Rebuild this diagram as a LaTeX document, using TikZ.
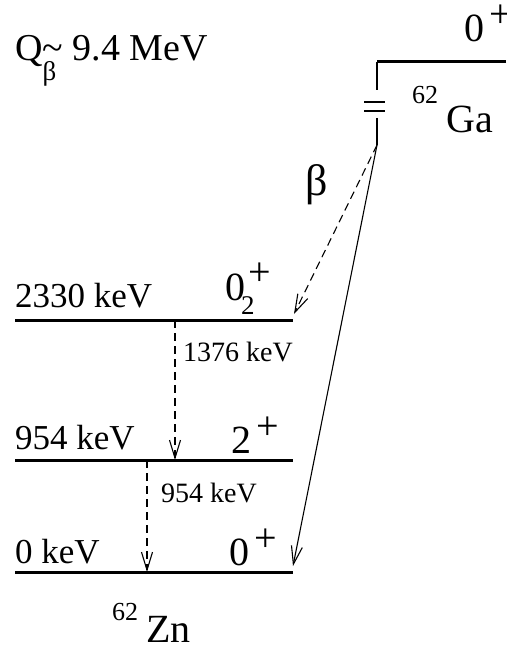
\documentclass[tikz,border=0pt]{standalone}
\usepackage{fontspec}
\setmainfont{Liberation Serif}
\usetikzlibrary{arrows.meta}

\newcommand\spinlab[1]{#1\kern5pt\raisebox{14pt}{+}}
\newcommand\spinsub[2]{#1\rlap{\kern-4pt\raisebox{-14pt}{\fontsize{27}{27}\selectfont #2}}\kern3pt\raisebox{15pt}{+}}

\begin{document}
\begin{tikzpicture}[x=1pt, y=-1pt,
  level/.style={line width=3pt},
  trans/.style={line width=1.1pt, -{Straight Barb[length=18pt,width=11pt]}},
  gam/.style={trans, dash pattern=on 8pt off 5pt},
  lvltxt/.style={anchor=base west, inner sep=0pt, font=\fontsize{35}{35}\selectfont},
  spintxt/.style={anchor=base west, inner sep=0pt, font=\fontsize{40}{40}\selectfont},
  gamtxt/.style={anchor=base west, inner sep=0pt, font=\fontsize{28}{28}\selectfont},
  nuctxt/.style={anchor=base west, inner sep=0pt, font=\fontsize{40}{40}\selectfont},
  masstxt/.style={anchor=base west, inner sep=0pt, font=\fontsize{26}{26}\selectfont}]
  \useasboundingbox (0,0) rectangle (506,650);

  % Q value
  \node[anchor=base west, inner sep=0pt, font=\fontsize{38}{38}\selectfont] (qval) at (15,61)
    {Q\rlap{\raisebox{-20pt}{\fontsize{27}{27}\selectfont β}}\textasciitilde\ 9.4 MeV};

  % parent level 62Ga
  \coordinate (gaw) at (377,62);
  \coordinate (gae) at (506,62);
  \coordinate (gastem) at (377,90);
  \coordinate (gafoot) at (377,118);
  \coordinate (gabot) at (377,145);
  \draw[level] (gae) -- (gaw);
  \draw[line width=1.3pt] (gaw) -- (gastem);
  \draw[line width=1.3pt] (364,102) -- (385,102) (364,111) -- (385,111);
  \draw[line width=1.3pt] (gafoot) -- (gabot);
  \node[spintxt] (gaspin) at (464,42) {\spinlab{0}};
  \node[masstxt] (gamass) at (412,103) {62};
  \node[nuctxt] (ganame) at (446,132) {Ga};
  \node[anchor=base west, inner sep=0pt, font=\fontsize{44}{44}\selectfont] (beta) at (305,195) {β};

  % daughter levels 62Zn
  \coordinate (l2w) at (15,320);   \coordinate (l2e) at (293,320);
  \coordinate (l1w) at (15,460);   \coordinate (l1e) at (293,460);
  \coordinate (l0w) at (15,572);   \coordinate (l0e) at (293,572);
  \draw[level] (l2w) -- (l2e);
  \draw[level] (l1w) -- (l1e);
  \draw[level] (l0w) -- (l0e);
  \node[lvltxt] (e2) at (15,307) {2330 keV};
  \node[lvltxt] (e1) at (15,449) {954 keV};
  \node[lvltxt] (e0) at (15,563) {0 keV};
  \node[spintxt] (s2) at (225,300) {\spinsub{0}{2}};
  \node[spintxt] (s1) at (231,453) {\spinlab{2}};
  \node[spintxt] (s0) at (229,565) {\spinlab{0}};
  \node[masstxt] (znmass) at (112,620) {62};
  \node[nuctxt] (znname) at (146,642) {Zn};

  % beta feeding
  \draw[gam] (gabot) -- (294,314);
  \draw[trans] (gabot) -- (293,566);

  % gamma cascade
  \coordinate (g1top) at (175,320); \coordinate (g1bot) at (175,460);
  \coordinate (g0top) at (147,460); \coordinate (g0bot) at (147,572);
  \draw[gam] (g1top) -- (g1bot);
  \draw[gam] (g0top) -- (g0bot);
  \node[gamtxt] (gl1) at (183,361) {1376 keV};
  \node[gamtxt] (gl0) at (161,502) {954 keV};
\end{tikzpicture}
\end{document}
